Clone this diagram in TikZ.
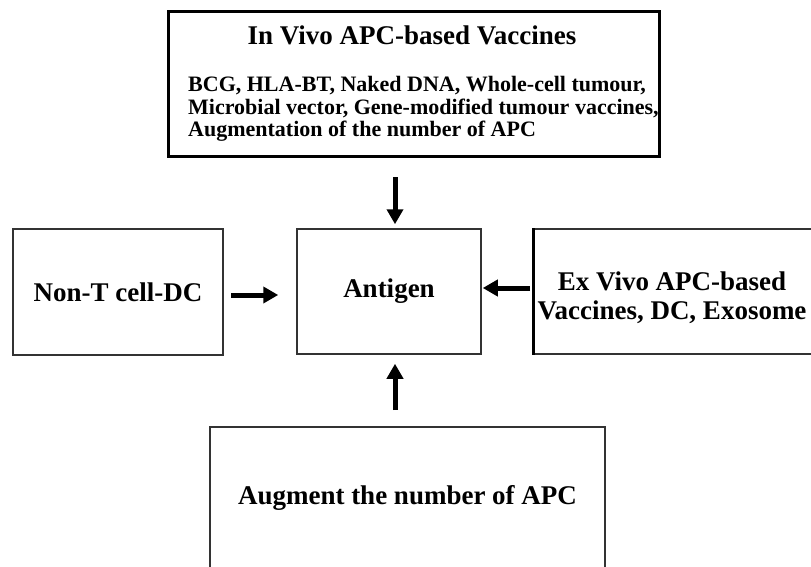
\documentclass[tikz,border=0pt]{standalone}
\usepackage{fontspec}
\setmainfont{Liberation Serif}
\usetikzlibrary{arrows.meta}
\begin{document}
\begin{tikzpicture}[x=1pt,y=-1pt,
	box/.style={draw=black!80,line width=1.5pt,rectangle,inner sep=0pt,font=\bfseries\fontsize{27}{29}\selectfont},
	arr/.style={line width=5pt,-{Triangle[length=15pt,width=16pt]}}]
	\useasboundingbox (0,0) rectangle (811,567);
	\clip (0,0) rectangle (811,567);
	\node[box,draw=black,line width=3pt,minimum width=491pt,minimum height=144pt] (invivo) at (413.5,84) {};
	\node[font=\bfseries\fontsize{27}{29}\selectfont] (invivotitle) at (412,35) {In Vivo APC-based Vaccines};
	\node[anchor=west,align=left,inner sep=0pt,font=\bfseries\fontsize{22}{22.5}\selectfont] (invivolist) at (188,109) {BCG, HLA-BT, Naked DNA, Whole-cell tumour,\\Microbial vector, Gene-modified tumour vaccines,\\Augmentation of the number of APC};
	\node[box,minimum width=210pt,minimum height=126pt] (nontcell) at (118,292) {Non-T cell-DC};
	\node[box,minimum width=184pt,minimum height=125pt] (antigen) at (389,291.5) {Antigen};
	\node[align=center,inner sep=0pt,font=\bfseries\fontsize{27}{29}\selectfont] (exvivotext) at (672,297.5) {Ex Vivo APC-based\\Vaccines, DC, Exosome};
	\node[box,minimum width=281pt,minimum height=125pt] (exvivo) at (674.5,291.5) {};
	\draw[line width=3pt] (exvivo.north west) -- (exvivo.south west);
	\node[box,minimum width=395pt,minimum height=142pt] (augment) at (407.5,498) {Augment the number of APC};
	\coordinate (d1) at (395,177);
	\coordinate (r1) at (231,295);
	\coordinate (l1) at (530,288);
	\coordinate (u1) at (395,410);
	\draw[arr,shorten >=4pt] (d1) -- (d1 |- antigen.north);
	\draw[arr,shorten >=18pt] (r1) -- (r1 -| antigen.west);
	\draw[arr,shorten >=1pt] (l1) -- (l1 -| antigen.east);
	\draw[arr,shorten >=9pt] (u1) -- (u1 |- antigen.south);
\end{tikzpicture}
\end{document}
